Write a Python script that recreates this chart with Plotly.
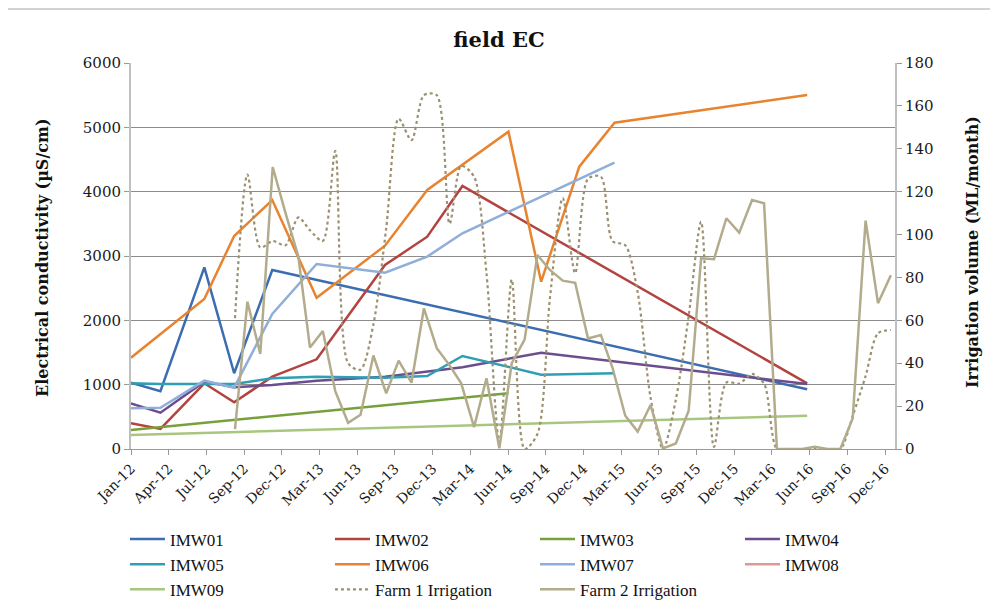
import plotly.graph_objects as go

# ---------------- data ----------------
well_dates = ["2012-01-01", "2012-03-12", "2012-06-26", "2012-09-06", "2012-12-07",
              "2013-03-24", "2013-09-05", "2013-12-16", "2014-03-11", "2014-06-30",
              "2014-09-17", "2014-12-18", "2015-03-13", "2016-06-20"]

N = None
imw01 = [1031, 900, 2824, 1177, 2782, N, N, N, N, N, N, N, N, 928]
imw02 = [400, 311, 1021, 726, 1124, 1394, 2860, 3300, 4088, N, N, N, N, 1021]
imw03 = [295, N, N, N, N, N, N, N, N, 866, N, N, N, N]
imw04 = [710, 565, 1047, 960, 995, 1062, 1124, 1202, 1270, N, 1497, N, N, 1010]
imw05 = [1021, 1010, 1010, 1010, 1099, 1124, 1109, 1135, 1446, N, 1155, N, 1177, N]
imw06 = [1420, N, 2332, 3311, 3870, 2352, 3160, 4026, N, 4933, 2600, 4388, 5072, 5503]
imw07 = [633, 642, 1062, 953, 2099, 2876, 2741, 2990, 3353, N, N, N, 4451, N]
imw08 = [N, N, N, N, N, N, N, N, N, N, N, N, N, N]
imw09 = [218, N, N, N, N, N, N, N, N, N, N, N, N, 518]

irrigation_months = [
    "2012-09-08", "2012-10-08", "2012-11-08", "2012-12-08",
    "2013-01-08", "2013-02-08", "2013-03-08", "2013-04-08", "2013-05-08", "2013-06-08",
    "2013-07-08", "2013-08-08", "2013-09-08", "2013-10-08", "2013-11-08", "2013-12-08",
    "2014-01-08", "2014-02-08", "2014-03-08", "2014-04-08", "2014-05-08", "2014-06-08",
    "2014-07-08", "2014-08-08", "2014-09-08", "2014-10-08", "2014-11-08", "2014-12-08",
    "2015-01-08", "2015-02-08", "2015-03-08", "2015-04-08", "2015-05-08", "2015-06-08",
    "2015-07-08", "2015-08-08", "2015-09-08", "2015-10-08", "2015-11-08", "2015-12-08",
    "2016-01-08", "2016-02-08", "2016-03-08", "2016-04-08", "2016-05-08", "2016-06-08",
    "2016-07-08", "2016-08-08", "2016-09-08", "2016-10-08", "2016-11-08", "2016-12-08",
    "2017-01-08"]
farm1 = [61, 128, 94, 97, 95, 108, 102, 97, 139, 40, 37, 58, 103, 154, 144, 165, 165,
         105, 132, 127, 82, 3, 79, 0, 7, 70, 117, 82, 126, 127, 97, 95, 73, 24, 0, 23,
         62, 106, 1, 31, 30.5, 35, 30.5, 0, 0, 0, 0, 0, 0, 15.5, 34, 54, 55.5]
farm2 = [9.3, 68.7, 44.3, 131.5, 110, 89.7, 47.3, 55, 27, 12.2, 16, 43.6, 26, 41.2,
         30.9, 65.6, 47, 39, 30.6, 10.2, 33, 0.3, 40, 51, 90.5, 83.5, 78.5, 77.5, 51.6,
         53.2, 38, 15.5, 8.1, 20.5, 0.3, 2.6, 17.8, 88.9, 88.5, 107.6, 100.9, 116.1,
         114.6, 0, 0, 0, 1, 0, 0, 14.3, 106.5, 68, 81]

tick_dates = ["2012-01-01", "2012-04-01", "2012-07-01", "2012-09-30", "2012-12-30",
              "2013-03-31", "2013-06-30", "2013-09-29", "2013-12-29", "2014-03-30",
              "2014-06-29", "2014-09-28", "2014-12-28", "2015-03-29", "2015-06-28",
              "2015-09-27", "2015-12-27", "2016-03-27", "2016-06-26", "2016-09-25",
              "2016-12-25"]
tick_labels = ["Jan-12", "Apr-12", "Jul-12", "Sep-12", "Dec-12", "Mar-13", "Jun-13",
               "Sep-13", "Dec-13", "Mar-14", "Jun-14", "Sep-14", "Dec-14", "Mar-15",
               "Jun-15", "Sep-15", "Dec-15", "Mar-16", "Jun-16", "Sep-16", "Dec-16"]

wells = [("IMW01", imw01, "#3B6DB0"), ("IMW02", imw02, "#B3433F"),
         ("IMW03", imw03, "#76A13A"), ("IMW04", imw04, "#6C4D8E"),
         ("IMW05", imw05, "#2E9FB5"), ("IMW06", imw06, "#E8832F"),
         ("IMW07", imw07, "#8FAED8"), ("IMW08", imw08, "#DC9A97"),
         ("IMW09", imw09, "#A8C67F")]

# ---------------- figure ----------------
fig = go.Figure()
for name, vals, col in wells:
    fig.add_trace(go.Scatter(x=well_dates, y=vals, name=name, mode="lines",
                             connectgaps=True,
                             line=dict(color=col, width=2.5)))

fig.add_trace(go.Scatter(x=irrigation_months, y=farm1, name="Farm 1 Irrigation",
                         mode="lines", yaxis="y2",
                         line=dict(color="#9A9170", width=2.2, dash="dot",
                                   shape="spline", smoothing=0.8)))
fig.add_trace(go.Scatter(x=irrigation_months, y=farm2, name="Farm 2 Irrigation",
                         mode="lines", yaxis="y2",
                         line=dict(color="#B2AC8C", width=2.5)))

serif = "DejaVu Serif"
axis_col = "#BFBFBF"

# page body has an 8px default margin: figure is sized/offset to compensate
W, H = 990, 602
fig.update_layout(
    width=W, height=H,
    margin=dict(l=123, r=103, t=55, b=161, autoexpand=False),
    paper_bgcolor="white", plot_bgcolor="white",
    font=dict(family=serif, color="#1a1a1a", size=15),
    title=dict(text="<b>field EC</b>", x=491 / W, xanchor="center",
               y=1 - 32 / H, yanchor="middle",
               font=dict(family=serif, size=21, color="#111")),
    xaxis=dict(type="date", range=["2012-01-01", "2017-01-18"],
               tickmode="array", tickvals=tick_dates, ticktext=tick_labels,
               tickangle=-45, tickfont=dict(size=14, family=serif),
               ticks="outside", ticklen=5, tickcolor="#999", showgrid=False,
               showline=True, linecolor="#999", linewidth=1, zeroline=False),
    yaxis=dict(range=[0, 6000], dtick=1000, tickformat="d",
               showgrid=True, gridcolor="#8C8C8C", gridwidth=1,
               ticks="outside", ticklen=5, tickcolor="#999",
               showline=True, linecolor=axis_col, linewidth=2, zeroline=False,
               tickfont=dict(size=15, family=serif)),
    yaxis2=dict(range=[0, 180], dtick=20, overlaying="y", side="right",
                showgrid=False, ticks="outside", ticklen=5, tickcolor="#999",
                showline=True, linecolor=axis_col, linewidth=2, zeroline=False,
                tickfont=dict(size=15, family=serif)),
    legend=dict(orientation="h", x=-0.0079, xanchor="left", y=-0.188, yanchor="top",
                font=dict(family="Liberation Serif", size=17, color="#111"),
                entrywidth=155, itemwidth=35, traceorder="normal",
                bgcolor="rgba(0,0,0,0)"),
    showlegend=True,
)

fig.add_annotation(text="<b>Electrical conductivity (µS/cm)</b>", textangle=-90,
                   xref="paper", yref="paper", x=(42 - 131) / 764, y=(449 - 258) / 386,
                   showarrow=False, font=dict(family=serif, size=16, color="#111"),
                   xanchor="center", yanchor="middle")
fig.add_annotation(text="<b>Irrigation volume (ML/month)</b>", textangle=-90,
                   xref="paper", yref="paper", x=(972 - 131) / 764, y=(449 - 252) / 386,
                   showarrow=False, font=dict(family=serif, size=16, color="#111"),
                   xanchor="center", yanchor="middle")

fig.add_shape(type="rect", xref="paper", yref="paper",
              x0=(7 - 131) / 764, x1=(1010 - 131) / 764,
              y0=(449 - 620) / 386, y1=(449 - 9) / 386,
              line=dict(color="#A6A6A6", width=1), layer="below")

fig.write_html("out.html")
